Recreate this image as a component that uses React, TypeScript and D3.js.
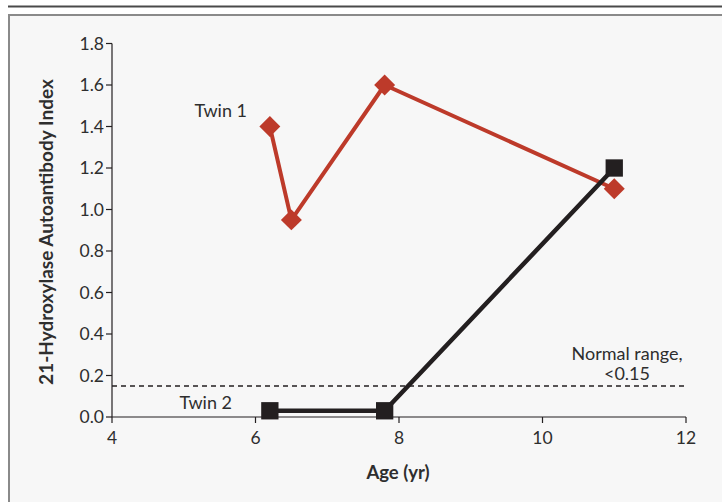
import React from "react";
import * as d3 from "d3";

const twin1Age = [6.2, 6.5, 7.8, 11.0];
const twin1Index = [1.4, 0.95, 1.6, 1.1];
const twin2Age = [6.2, 7.8, 11.0];
const twin2Index = [0.03, 0.03, 1.2];
const xTicks = [4, 6, 8, 10, 12];
const yTicks = [0, 0.2, 0.4, 0.6, 0.8, 1.0, 1.2, 1.4, 1.6, 1.8];
const normalRange = 0.15;

const RED = "#bd3a2a";
const BLACK = "#231f20";
const TEXT = "#2e2e2e";
const FONT = "Lato, 'Open Sans', sans-serif";

export default function App() {
  const x = d3.scaleLinear().domain([4, 12]).range([112, 686]);
  const y = d3.scaleLinear().domain([0, 1.8]).range([417, 43.5]);
  const t1 = twin1Age.map((a, i) => [a, twin1Index[i]] as [number, number]);
  const t2 = twin2Age.map((a, i) => [a, twin2Index[i]] as [number, number]);
  const line = d3
    .line<[number, number]>()
    .x((d) => x(d[0]))
    .y((d) => y(d[1]));
  const diamond = d3.symbol().type(d3.symbolSquare).size(220)();
  const square = d3.symbol().type(d3.symbolSquare).size(300)();

  return (
    <svg
      width={722}
      height={502}
      style={{ position: "absolute", left: 0, top: 0 }}
      fontFamily={FONT}
    >
      <rect x={0} y={0} width={722} height={502} fill="#ffffff" />
      <line x1={8} x2={722} y1={6.5} y2={6.5} stroke="#4a4a4a" strokeWidth={2} />
      <rect x={9} y={15} width={720} height={495} fill="#f7f7f7" stroke="#8a8a8a" strokeWidth={2} />

      {/* dashed normal range */}
      <line
        x1={x(4)}
        x2={x(12)}
        y1={y(normalRange)}
        y2={y(normalRange)}
        stroke={BLACK}
        strokeWidth={1.5}
        strokeDasharray="5,4"
      />

      {/* axes */}
      <line x1={x(4)} x2={x(4)} y1={y(0)} y2={y(1.8)} stroke={BLACK} strokeWidth={1.2} />
      <line x1={x(4)} x2={x(12)} y1={y(0)} y2={y(0)} stroke={BLACK} strokeWidth={1.2} />
      {yTicks.map((t) => (
        <g key={"y" + t}>
          <line x1={x(4) - 6} x2={x(4)} y1={y(t)} y2={y(t)} stroke={BLACK} strokeWidth={1.2} />
          <text x={x(4) - 8} y={y(t)} dy="0.36em" textAnchor="end" fontSize={17.5} fill={TEXT}>
            {t.toFixed(1)}
          </text>
        </g>
      ))}
      {xTicks.map((t) => (
        <g key={"x" + t}>
          <line x1={x(t)} x2={x(t)} y1={y(0)} y2={y(0) + 6} stroke={BLACK} strokeWidth={1.2} />
          <text x={x(t)} y={y(0) + 27} textAnchor="middle" fontSize={17.5} fill={TEXT}>
            {t}
          </text>
        </g>
      ))}

      <text x={398} y={479} textAnchor="middle" fontSize={18.5} fontWeight="bold" fill={TEXT}>
        Age (yr)
      </text>
      <text
        transform={`translate(53,232) rotate(-90)`}
        textAnchor="middle"
        fontSize={19}
        fontWeight="bold"
        fill={TEXT}
      >
        21-Hydroxylase Autoantibody Index
      </text>

      {/* series */}
      <path d={line(t1) || ""} fill="none" stroke={RED} strokeWidth={4} strokeLinejoin="round" />
      {t1.map((d, i) => (
        <path key={"d" + i} d={diamond || ""} transform={`translate(${x(d[0])},${y(d[1])}) rotate(45)`} fill={RED} />
      ))}
      <path d={line(t2) || ""} fill="none" stroke={BLACK} strokeWidth={4.5} strokeLinejoin="round" />
      {t2.map((d, i) => (
        <path key={"s" + i} d={square || ""} transform={`translate(${x(d[0])},${y(d[1])})`} fill={BLACK} />
      ))}

      <text x={247} y={117} textAnchor="end" fontSize={18} fill={TEXT}>
        Twin 1
      </text>
      <text x={232} y={409} textAnchor="end" fontSize={18} fill={TEXT}>
        Twin 2
      </text>
      <text x={627} y={360} textAnchor="middle" fontSize={18} fill={TEXT}>
        Normal range,
      </text>
      <text x={627} y={380} textAnchor="middle" fontSize={18} fill={TEXT}>
        &lt;0.15
      </text>
    </svg>
  );
}
